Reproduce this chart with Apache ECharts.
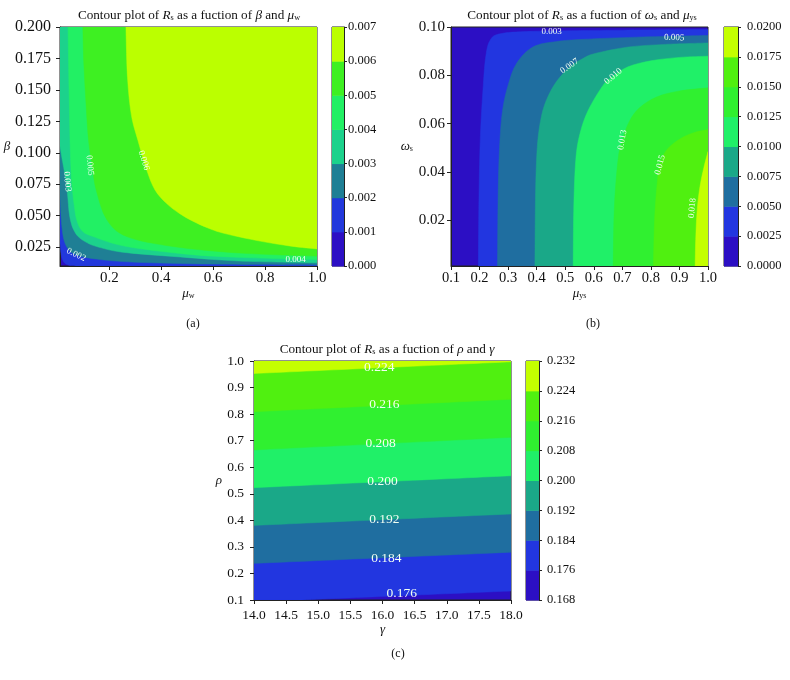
<!DOCTYPE html>
<html>
<head>
<meta charset="utf-8">
<script src="https://cdn.jsdelivr.net/npm/echarts@6/dist/echarts.min.js"></script>
<style>html,body{margin:0;padding:0;background:#fff}#main{width:790px;height:680px}</style>
</head>
<body>
<div id="main"></div>
<script>
const FONT = 'Liberation Serif';

// ---- (a) R_s as a function of beta and mu_w ----
const levelsA = [0, 0.001, 0.002, 0.003, 0.004, 0.005, 0.006, 0.007];
const colorsA = ['#2c0fc4', '#2238dc', '#1f7f95', '#1cd28c', '#22f064', '#3ef022', '#bbff00'];
const contourA1 = [[0.01, 0.028], [0.014, 0.02], [0.02, 0.015], [0.03, 0.012], [0.05, 0.0103], [0.07, 0.01]];
const contourA2 = [[0.01, 0.065], [0.014, 0.05], [0.018, 0.04], [0.025, 0.031], [0.04, 0.024], [0.072, 0.019], [0.15, 0.0155], [0.3, 0.013], [0.6, 0.0115], [1.0, 0.0108]];
const contourA3 = [[0.01, 0.105], [0.02, 0.093], [0.028, 0.084], [0.034, 0.077], [0.04, 0.065], [0.045, 0.053], [0.052, 0.045], [0.062, 0.039], [0.08, 0.0334], [0.11, 0.029], [0.151, 0.0255], [0.25, 0.021], [0.445, 0.0176], [0.7, 0.014], [1.0, 0.0125]];
const contourA4 = [[0.041, 0.2], [0.045, 0.15], [0.05, 0.1], [0.056, 0.075], [0.065, 0.058], [0.074, 0.047], [0.095, 0.038], [0.138, 0.0334], [0.267, 0.0255], [0.52, 0.019], [0.75, 0.0165], [1.0, 0.015]];
const contourA5 = [[0.098, 0.2], [0.102, 0.17], [0.11, 0.14], [0.12, 0.11], [0.135, 0.088], [0.15, 0.07], [0.19, 0.047], [0.267, 0.0334], [0.445, 0.0255], [0.7, 0.0203], [1.0, 0.0178]];
const contourA6 = [[0.264, 0.2], [0.27, 0.16], [0.285, 0.13], [0.31, 0.11], [0.344, 0.0863], [0.376, 0.0705], [0.42, 0.0598], [0.47, 0.0518], [0.52, 0.0458], [0.58, 0.0402], [0.645, 0.0358], [0.775, 0.03], [0.9, 0.0258], [1.0, 0.0236]];
const contoursA = [
  { pts: contourA1, close: [[1.0, 0.01], [1.0, 0.2], [0.01, 0.2]] },
  { pts: contourA2, close: [[1.0, 0.2], [0.01, 0.2]] },
  { pts: contourA3, close: [[1.0, 0.2], [0.01, 0.2]] },
  { pts: contourA4, close: [[1.0, 0.2]] },
  { pts: contourA5, close: [[1.0, 0.2]] },
  { pts: contourA6, close: [[1.0, 0.2]] }
];
const labelTextA = ['0.002', '0.003', '0.004', '0.005', '0.006'];
const labelPosA = [[0.072, 0.019, -25], [0.038, 0.077, -85], [0.918, 0.015, 0], [0.125, 0.09, -84], [0.333, 0.094, -72]];
const xTicksA = [0.2, 0.4, 0.6, 0.8, 1.0];
const yTicksA = [0.025, 0.05, 0.075, 0.1, 0.125, 0.15, 0.175, 0.2];

// ---- (b) R_s as a function of omega_s and mu_ys ----
const levelsB = [0, 0.0025, 0.005, 0.0075, 0.01, 0.0125, 0.015, 0.0175, 0.02];
const colorsB = ['#2c0fc4', '#2236e0', '#1f6ea0', '#1aa888', '#20f068', '#30f030', '#50f010', '#c4ff00'];
const contourB1 = [[0.196, 0.001], [0.198, 0.03], [0.203, 0.055], [0.213, 0.0759], [0.222, 0.088], [0.237, 0.0945], [0.272, 0.0972], [0.388, 0.0982], [0.68, 0.0987], [1.0, 0.099]];
const contourB2 = [[0.263, 0.001], [0.265, 0.03], [0.27, 0.05], [0.28, 0.065], [0.3, 0.0759], [0.33, 0.085], [0.388, 0.0918], [0.47, 0.094], [0.564, 0.0949], [0.75, 0.0958], [0.914, 0.0963], [1.0, 0.0965]];
const contourB3 = [[0.394, 0.001], [0.396, 0.03], [0.402, 0.05], [0.415, 0.062], [0.435, 0.07], [0.47, 0.0775], [0.517, 0.0835], [0.56, 0.0868], [0.604, 0.089], [0.721, 0.0917], [0.85, 0.0928], [1.0, 0.0934]];
const contourB4 = [[0.528, 0.001], [0.53, 0.025], [0.537, 0.045], [0.552, 0.056], [0.581, 0.0656], [0.633, 0.0759], [0.668, 0.0796], [0.72, 0.0835], [0.8, 0.086], [0.9, 0.0874], [1.0, 0.0879]];
const contourB5 = [[0.668, 0.001], [0.672, 0.025], [0.685, 0.045], [0.7, 0.0532], [0.725, 0.061], [0.76, 0.0665], [0.82, 0.071], [0.9, 0.0735], [1.0, 0.0748]];
const contourB6 = [[0.809, 0.001], [0.813, 0.02], [0.822, 0.035], [0.832, 0.0429], [0.855, 0.049], [0.9, 0.0535], [0.95, 0.0562], [1.0, 0.0575]];
const contourB7 = [[0.955, 0.001], [0.957, 0.012], [0.962, 0.024], [0.972, 0.034], [0.986, 0.042], [1.0, 0.0484]];
const contoursB = [contourB1, contourB2, contourB3, contourB4, contourB5, contourB6, contourB7]
  .map(pts => ({ pts: pts, close: [[1.0, 0.001]] }));
const labelTextB = ['0.003', '0.005', '0.007', '0.010', '0.013', '0.015', '0.018'];
const labelPosB = [[0.4525, 0.0982, 0], [0.882, 0.0956, -2], [0.515, 0.0838, 35], [0.668, 0.0796, 40], [0.7, 0.0532, 80], [0.832, 0.0429, 75], [0.945, 0.025, 85]];
const yTicksB = [0.02, 0.04, 0.06, 0.08, 0.10];

// ---- (c) R_s as a function of rho and gamma ----
const levelsC = [0.168, 0.176, 0.184, 0.192, 0.200, 0.208, 0.216, 0.224, 0.232];
const colorsC = ['#2c0fc4', '#2236e0', '#1f6ea0', '#1aa888', '#20f068', '#30f030', '#50f010', '#c4ff00'];
const contourC1 = [[14.7, 0.1], [18, 0.134]];
const contourC2 = [[14, 0.238], [18, 0.28]];
const contourC3 = [[14, 0.381], [18, 0.424]];
const contourC4 = [[14, 0.523], [18, 0.568]];
const contourC5 = [[14, 0.665], [18, 0.7125]];
const contourC6 = [[14, 0.809], [18, 0.856]];
const contourC7 = [[14, 0.953], [18, 0.997]];
const contoursC = [
  { pts: contourC1, close: [[18, 1.0], [14, 1.0], [14, 0.1]] },
  { pts: contourC2, close: [[18, 1.0], [14, 1.0]] },
  { pts: contourC3, close: [[18, 1.0], [14, 1.0]] },
  { pts: contourC4, close: [[18, 1.0], [14, 1.0]] },
  { pts: contourC5, close: [[18, 1.0], [14, 1.0]] },
  { pts: contourC6, close: [[18, 1.0], [14, 1.0]] },
  { pts: contourC7, close: [[18, 1.0], [14, 1.0]] }
];
const labelTextC = ['0.176', '0.184', '0.192', '0.200', '0.208', '0.216', '0.224'];
const labelPosC = [[16.3, 0.123, 0], [16.06, 0.258, 0], [16.03, 0.404, 0], [16.0, 0.546, 0], [15.97, 0.69, 0], [16.03, 0.837, 0], [15.95, 0.976, 0]];

const chart = echarts.init(document.getElementById('main'));

const dark = '#222';
function axisBase(gi, min, max, size, margin) {
  return {
    type: 'value', gridIndex: gi, min: min, max: max,
    axisLine: { show: true, onZero: false, lineStyle: { color: dark, width: 1 } },
    axisTick: { show: true, inside: false, length: 4, lineStyle: { color: dark } },
    splitLine: { show: false },
    axisLabel: { color: '#111', fontFamily: FONT, fontSize: size || 14, margin: margin || 6 }
  };
}
function nameStyle(size) {
  return {
    color: '#111', fontFamily: FONT, fontSize: size,
    rich: {
      i: { fontFamily: FONT, fontStyle: 'italic', fontSize: size, color: '#111' },
      s: { fontFamily: FONT, fontSize: size * 0.62, color: '#111', verticalAlign: 'bottom' }
    }
  };
}
function cbAxes(gi, levels, digits, margin) {
  const y = axisBase(gi, levels[0], levels[levels.length - 1]);
  y.position = 'right';
  y.interval = levels[1] - levels[0];
  y.axisTick.length = 3;
  y.axisLabel = { color: '#111', fontFamily: FONT, fontSize: 12.5, margin: margin, formatter: v => v.toFixed(digits) };
  const x = { type: 'value', gridIndex: gi, min: 0, max: 1, show: false };
  return [x, y];
}

// smooth curve through the read points (Catmull-Rom as cubic beziers), then straight to the frame corners
function bandPath(pts, corners) {
  let d = 'M' + pts[0][0] + ' ' + pts[0][1];
  for (let i = 0; i < pts.length - 1; i++) {
    const p0 = pts[i - 1] || pts[i];
    const p1 = pts[i];
    const p2 = pts[i + 1];
    const p3 = pts[i + 2] || p2;
    const c1x = p1[0] + (p2[0] - p0[0]) / 6, c1y = p1[1] + (p2[1] - p0[1]) / 6;
    const c2x = p2[0] - (p3[0] - p1[0]) / 6, c2y = p2[1] - (p3[1] - p1[1]) / 6;
    d += ' C' + c1x + ' ' + c1y + ' ' + c2x + ' ' + c2y + ' ' + p2[0] + ' ' + p2[1];
  }
  corners.forEach(p => { d += ' L' + p[0] + ' ' + p[1]; });
  return d + ' Z';
}

function contourSeries(gi, contours, colors) {
  return {
    type: 'custom', xAxisIndex: gi, yAxisIndex: gi, silent: true, clip: true,
    data: contours.map((c, i) => [c.pts[0][0], c.pts[0][1], i]),
    encode: { x: 0, y: 1 },
    renderItem: (params, api) => {
      const c = contours[params.dataIndex];
      const col = colors[params.dataIndex + 1];
      return {
        type: 'path',
        shape: { pathData: bandPath(c.pts.map(p => api.coord(p)), c.close.map(p => api.coord(p))) },
        style: { fill: col, stroke: col, lineWidth: 0.5 }
      };
    }
  };
}
function labelSeries(gi, pos, texts, size) {
  return {
    type: 'custom', xAxisIndex: gi, yAxisIndex: gi, silent: true, z: 5,
    data: pos,
    encode: { x: 0, y: 1 },
    renderItem: (params, api) => {
      const p = api.coord([api.value(0), api.value(1)]);
      return {
        type: 'text', x: p[0], y: p[1], rotation: api.value(2) * Math.PI / 180,
        style: { text: texts[params.dataIndex], fill: '#f2fff2', font: size + 'px "' + FONT + '"', align: 'center', verticalAlign: 'middle' }
      };
    }
  };
}
function colorbarSeries(gi, levels, colors) {
  return {
    type: 'custom', xAxisIndex: gi, yAxisIndex: gi, silent: true,
    data: colors.map((c, i) => [0, levels[i], levels[i + 1]]),
    encode: { x: 0, y: [1, 2] },
    renderItem: (params, api) => {
      const p0 = api.coord([0, api.value(1)]);
      const p1 = api.coord([1, api.value(2)]);
      return { type: 'rect', shape: { x: p0[0], y: p1[1], width: p1[0] - p0[0], height: p0[1] - p1[1] + 0.5 }, style: { fill: colors[params.dataIndex] } };
    }
  };
}

const gridA = { left: 60, top: 27, width: 257, height: 239 };
const gridB = { left: 451, top: 27, width: 257, height: 239 };
const gridC = { left: 254, top: 361, width: 257, height: 239 };
const cbA = { left: 332, top: 27, width: 12, height: 239 };
const cbB = { left: 724, top: 27, width: 14, height: 239 };
const cbC = { left: 526, top: 361, width: 13, height: 239 };

// axes
const xA = axisBase(0, 0.01, 1.0, 15, 5);
xA.axisLabel.customValues = xTicksA; xA.axisTick.customValues = xTicksA;
xA.axisLabel.formatter = v => v.toFixed(1);
xA.name = '{i|μ}{s|w}'; xA.nameLocation = 'middle'; xA.nameGap = 20; xA.nameTextStyle = nameStyle(13);
const yA = axisBase(0, 0.01, 0.2, 16, 9);
yA.axisLabel.customValues = yTicksA; yA.axisTick.customValues = yTicksA;
yA.axisLabel.formatter = v => v.toFixed(3);
yA.name = '{i|β}'; yA.nameLocation = 'middle'; yA.nameRotate = 0; yA.nameGap = 44; yA.nameTextStyle = nameStyle(13);

const xB = axisBase(2, 0.1, 1.0, 14.5, 5);
xB.interval = 0.1; xB.axisLabel.formatter = v => v.toFixed(1);
xB.name = '{i|μ}{s|ys}'; xB.nameLocation = 'middle'; xB.nameGap = 20; xB.nameTextStyle = nameStyle(13);
const yB = axisBase(2, 0.001, 0.1, 15, 6);
yB.axisLabel.customValues = yTicksB; yB.axisTick.customValues = yTicksB;
yB.axisLabel.formatter = v => v.toFixed(2);
yB.name = '{i|ω}{s|s}'; yB.nameLocation = 'middle'; yB.nameRotate = 0; yB.nameGap = 38; yB.nameTextStyle = nameStyle(13);

const xC = axisBase(4, 14, 18, 13.5, 8);
xC.interval = 0.5; xC.axisLabel.formatter = v => v.toFixed(1);
xC.name = '{i|γ}'; xC.nameLocation = 'middle'; xC.nameGap = 21; xC.nameTextStyle = nameStyle(13);
const yC = axisBase(4, 0.1, 1.0, 13.5, 10);
yC.interval = 0.1; yC.axisLabel.formatter = v => v.toFixed(1);
yC.name = '{i|ρ}'; yC.nameLocation = 'middle'; yC.nameRotate = 0; yC.nameGap = 32; yC.nameTextStyle = nameStyle(13);

const cbAxA = cbAxes(1, levelsA, 3, 4);
const cbAxB = cbAxes(3, levelsB, 4, 9);
const cbAxC = cbAxes(5, levelsC, 3, 8);

function titleText(text, left, top, size) {
  return {
    text: text, left: left, top: top, textAlign: 'center',
    textStyle: {
      fontFamily: FONT, fontSize: size, fontWeight: 'normal', color: '#111',
      rich: {
        n: { fontFamily: FONT, fontSize: size, color: '#111' },
        i: { fontFamily: FONT, fontStyle: 'italic', fontSize: size, color: '#111' },
        s: { fontFamily: FONT, fontSize: size * 0.62, color: '#111', verticalAlign: 'bottom' }
      }
    }
  };
}

chart.setOption({
  animation: false,
  backgroundColor: '#fff',
  title: [
    titleText('{n|Contour plot of }{i|R}{s|s}{n| as a fuction of }{i|β}{n| and }{i|μ}{s|w}', 184, 4, 13.2),
    titleText('{n|Contour plot of }{i|R}{s|s}{n| as a fuction of }{i|ω}{s|s}{n| and }{i|μ}{s|ys}', 577, 4, 13.2),
    titleText('{n|Contour plot of }{i|R}{s|s}{n| as a fuction of }{i|ρ}{n| and }{i|γ}', 382, 338, 13.2),
    titleText('(a)', 188, 313, 12),
    titleText('(b)', 588, 313, 12),
    titleText('(c)', 393, 643, 12)
  ],
  grid: [
    Object.assign({ show: true, backgroundColor: colorsA[0], borderColor: dark, borderWidth: 1 }, gridA),
    Object.assign({ show: true, borderColor: dark, borderWidth: 1 }, cbA),
    Object.assign({ show: true, backgroundColor: colorsB[0], borderColor: dark, borderWidth: 1 }, gridB),
    Object.assign({ show: true, borderColor: dark, borderWidth: 1 }, cbB),
    Object.assign({ show: true, backgroundColor: colorsC[0], borderColor: dark, borderWidth: 1 }, gridC),
    Object.assign({ show: true, borderColor: dark, borderWidth: 1 }, cbC)
  ],
  xAxis: [xA, cbAxA[0], xB, cbAxB[0], xC, cbAxC[0]],
  yAxis: [yA, cbAxA[1], yB, cbAxB[1], yC, cbAxC[1]],
  series: [
    contourSeries(0, contoursA, colorsA),
    labelSeries(0, labelPosA, labelTextA, 9),
    colorbarSeries(1, levelsA, colorsA),
    contourSeries(2, contoursB, colorsB),
    labelSeries(2, labelPosB, labelTextB, 9),
    colorbarSeries(3, levelsB, colorsB),
    contourSeries(4, contoursC, colorsC),
    labelSeries(4, labelPosC, labelTextC, 13.5),
    colorbarSeries(5, levelsC, colorsC)
  ]
});
</script>
</body>
</html>
